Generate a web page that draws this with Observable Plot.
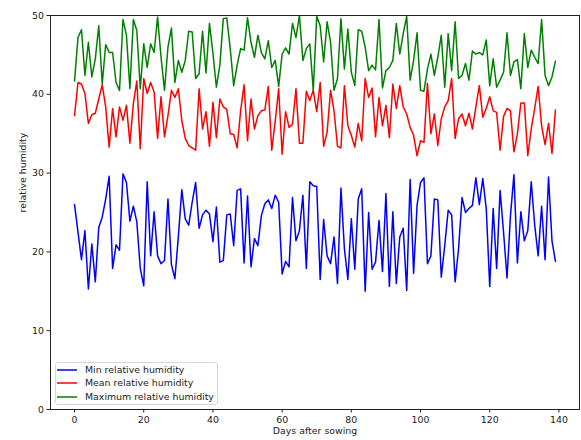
<!DOCTYPE html>
<html>
<head>
<meta charset="utf-8">
<script src="https://cdn.jsdelivr.net/npm/d3@7"></script>
<script src="https://cdn.jsdelivr.net/npm/@observablehq/plot@0.6"></script>
<style>
  html, body { margin: 0; padding: 0; background: #fff; }
  #wrap { position: relative; width: 581px; height: 440px; font-family: "DejaVu Sans", sans-serif; }
  #legend { position: absolute; left: 55px; top: 362px; width: 163px; height: 43px;
    border: 1px solid #d6d6d6; border-radius: 3px; background: rgba(255,255,255,0.8);
    box-sizing: border-box; font-size: 9.4px; color: #222; }
  .sw { position: absolute; left: 1px; width: 20px; height: 22px; overflow: visible; }
  .lab { position: absolute; left: 29px; white-space: nowrap; line-height: 12px; height: 12px; }
</style>
</head>
<body>
<div id="wrap"></div>
<script>
const seriesNames = ["Min relative humidity", "Mean relative humidity", "Maximum relative humidity"];
const seriesColors = ["blue", "red", "green"];
const xTicks = [0, 20, 40, 60, 80, 100, 120, 140];
const yTicks = [0, 10, 20, 30, 40, 50];

const minRH = [
  26.0, 22.5, 19.0, 22.7, 15.3, 21.0, 16.2, 23.1, 24.4, 26.7,
  29.6, 17.9, 20.9, 20.2, 29.9, 28.8, 23.9, 25.8, 23.8, 17.9,
  15.7, 28.9, 19.5, 25.1, 19.5, 18.5, 18.9, 26.7, 18.4, 16.6,
  21.9, 27.9, 24.2, 23.4, 26.3, 28.8, 23.0, 24.7, 25.3, 24.8,
  21.3, 25.7, 18.7, 18.9, 24.7, 24.8, 20.8, 27.8, 28.0, 18.6,
  27.1, 18.1, 21.7, 20.8, 24.6, 26.1, 26.6, 25.5, 27.2, 26.3,
  17.2, 18.8, 18.1, 26.9, 21.4, 22.7, 27.2, 17.9, 28.9, 28.4,
  28.3, 16.5, 24.1, 19.5, 18.5, 21.9, 16.0, 28.1, 20.4, 16.5,
  24.2, 17.8, 26.7, 28.0, 15.0, 25.0, 17.8, 18.7, 24.0, 17.5,
  27.4, 15.6, 25.1, 16.0, 21.9, 23.0, 15.1, 29.2, 17.3, 25.9,
  28.8, 29.4, 18.5, 19.5, 26.7, 26.6, 16.8, 20.8, 25.3, 24.7,
  16.2, 20.4, 26.9, 25.0, 25.5, 25.9, 29.4, 26.0, 29.3, 25.5,
  15.6, 25.5, 17.9, 27.8, 22.5, 16.7, 24.6, 29.8, 18.6, 25.1,
  21.4, 22.7, 28.9, 23.4, 19.5, 25.8, 19.0, 29.5, 21.4, 18.8
];

const meanRH = [
  37.3, 41.5, 41.3, 40.1, 36.3, 37.4, 37.6, 39.4, 41.2, 38.4,
  33.3, 38.2, 34.6, 38.4, 36.7, 38.6, 33.8, 38.8, 41.7, 33.1,
  42.0, 40.1, 41.5, 40.3, 34.4, 39.7, 34.6, 37.3, 40.5, 39.6,
  40.7, 36.7, 34.4, 33.5, 33.2, 32.9, 40.7, 35.6, 37.8, 33.4,
  39.0, 34.5, 39.4, 38.4, 38.1, 35.0, 34.9, 33.2, 37.9, 41.2,
  34.1, 39.4, 35.6, 37.3, 37.9, 38.0, 41.0, 32.9, 36.6, 40.7,
  32.4, 37.8, 35.8, 36.2, 40.7, 33.8, 33.8, 40.4, 39.2, 40.5,
  37.8, 41.5, 33.4, 35.2, 40.5, 37.9, 33.4, 33.2, 41.1, 36.0,
  34.8, 33.3, 36.3, 34.1, 42.0, 39.6, 40.8, 34.6, 39.6, 36.0,
  38.6, 34.5, 41.3, 38.2, 41.1, 38.4, 37.5, 35.8, 34.8, 32.2,
  34.1, 33.9, 41.4, 35.0, 37.5, 33.5, 36.9, 38.4, 39.2, 42.0,
  34.4, 36.9, 37.5, 36.0, 37.6, 35.6, 38.4, 41.1, 37.1, 38.2,
  39.7, 37.9, 37.7, 32.9, 37.2, 38.2, 37.9, 32.7, 35.0, 38.9,
  38.9, 32.2, 35.6, 38.2, 41.0, 36.0, 33.6, 36.3, 32.5, 38.0
];

const maxRH = [
  41.7, 47.2, 48.2, 42.4, 46.6, 42.2, 44.5, 48.7, 41.3, 46.3,
  45.3, 45.3, 41.5, 40.5, 49.5, 47.5, 40.7, 49.5, 48.1, 40.7,
  46.4, 43.4, 46.4, 45.3, 49.8, 44.7, 40.5, 46.0, 48.4, 41.5,
  44.3, 42.8, 44.3, 48.0, 47.9, 42.0, 42.6, 48.0, 42.7, 49.0,
  45.2, 40.9, 43.7, 49.6, 49.7, 45.8, 41.1, 43.7, 45.8, 45.6,
  49.7, 46.6, 44.7, 47.5, 45.3, 44.5, 46.8, 43.4, 44.3, 41.0,
  45.1, 45.9, 45.1, 49.0, 47.2, 50.0, 44.3, 45.8, 46.4, 40.5,
  49.9, 48.7, 44.1, 49.2, 46.6, 40.5, 42.0, 49.6, 43.2, 48.3,
  42.8, 41.1, 48.2, 48.0, 46.0, 43.0, 43.7, 43.1, 49.5, 40.8,
  43.0, 43.4, 44.3, 49.0, 45.1, 47.7, 49.9, 41.8, 44.3, 47.8,
  40.5, 40.4, 43.2, 45.1, 42.4, 44.7, 47.5, 40.9, 47.7, 43.0,
  49.2, 42.0, 42.4, 43.9, 41.8, 45.5, 45.1, 45.3, 45.0, 46.9,
  41.1, 44.5, 40.9, 41.8, 42.8, 47.8, 42.4, 44.1, 44.4, 40.7,
  47.7, 43.4, 45.6, 44.7, 43.9, 49.5, 42.4, 41.1, 42.2, 44.2
];

const seriesValues = [minRH, meanRH, maxRH];
const rows = seriesValues.flatMap((vals, s) =>
  vals.map((v, i) => ({day: i, value: v, series: seriesNames[s]})));

const chart = Plot.plot({
  width: 581,
  height: 440,
  marginLeft: 50,
  marginRight: 2,
  marginTop: 15,
  marginBottom: 31,
  style: {fontFamily: "DejaVu Sans, sans-serif", fontSize: "9.4px", background: "white", color: "#222"},
  x: {domain: [-6.95, 145.95]},
  y: {domain: [0, 50]},
  color: {domain: seriesNames, range: seriesColors},
  marks: [
    Plot.axisX({ticks: xTicks, tickSize: 3.5, tickPadding: 3, label: null, tickFormat: d => String(d)}),
    Plot.axisY({ticks: yTicks, tickSize: 3.5, tickPadding: 3, label: null, tickFormat: d => String(d)}),
    Plot.lineY(rows, {x: "day", y: "value", z: "series", stroke: "series", strokeWidth: 1.5, clip: true}),
    Plot.frame({stroke: "#222", strokeWidth: 1}),
    Plot.text(["Days after sowing"], {frameAnchor: "bottom", dy: 24, fontSize: 9.4, fill: "#222"}),
    Plot.text(["relative humidity"], {frameAnchor: "left", dx: -28, rotate: -90, fontSize: 9.4, fill: "#222"})
  ]
});

const wrap = document.getElementById("wrap");
wrap.appendChild(chart);

const legend = document.createElement("div");
legend.id = "legend";
const rowCenters = [7, 20.3, 34];
const NS = "http://www.w3.org/2000/svg";
seriesNames.forEach((name, i) => {
  const sw = document.createElementNS(NS, "svg");
  sw.setAttribute("class", "sw");
  sw.setAttribute("width", "20");
  sw.setAttribute("height", "10");
  sw.style.top = (rowCenters[i] - 5) + "px";
  const ln = document.createElementNS(NS, "line");
  ln.setAttribute("x1", "0"); ln.setAttribute("x2", "20");
  ln.setAttribute("y1", "5"); ln.setAttribute("y2", "5");
  ln.setAttribute("stroke", seriesColors[i]);
  ln.setAttribute("stroke-width", "1.5");
  sw.appendChild(ln);
  legend.appendChild(sw);
  const t = document.createElement("div");
  t.className = "lab";
  t.style.top = (rowCenters[i] - 6) + "px";
  t.textContent = name;
  legend.appendChild(t);
});
wrap.appendChild(legend);
</script>
</body>
</html>
